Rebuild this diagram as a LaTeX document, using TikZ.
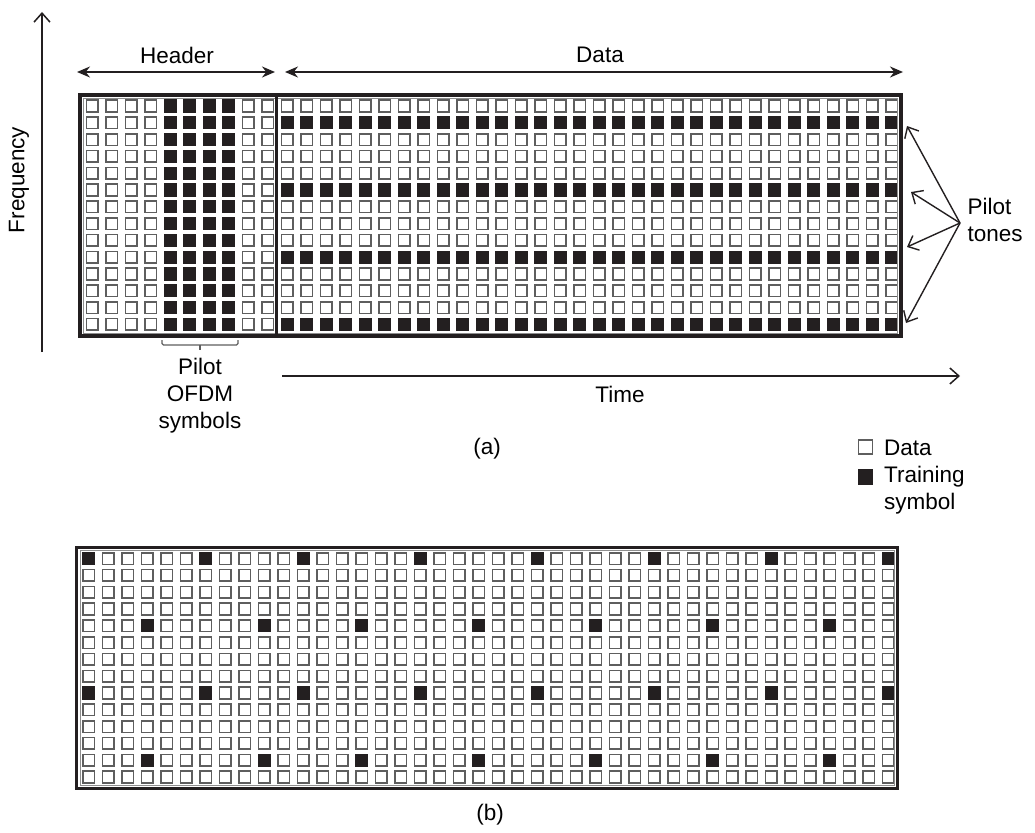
\documentclass[tikz,border=0pt]{standalone}
\usepackage{fontspec}
\setmainfont{Liberation Sans}
\usetikzlibrary{arrows.meta, positioning}
\definecolor{cellgrey}{HTML}{5E5E5E}
\definecolor{cellink}{HTML}{231F20}

\begin{document}
\begin{tikzpicture}[x=1pt, y=-1pt, font=\fontsize{22.5}{27}\selectfont,
    datacell/.style={draw=cellgrey, line width=1.5pt, fill=white},
    traincell/.style={draw=cellink, line width=1.5pt, fill=cellink},
    frame/.style={draw=cellink, line width=3.5pt},
    innerframe/.style={draw=cellgrey!70, line width=0.8pt},
    span/.style={{Stealth[length=13pt,width=11pt]}-{Stealth[length=13pt,width=11pt]}, line width=1.4pt, cellink},
    axis/.style={-{Straight Barb[length=9pt,width=16pt]}, line width=1.5pt, cellink}]
  \useasboundingbox (0,0) rectangle (1035,832);
  % (a) header + data
  \begin{scope}
    \foreach \c in {1,...,42}
      \foreach \r in {1,...,14}
        \draw[datacell] ({86.4+(\c-1)*19.5},{100.2+(\r-1)*16.8}) rectangle ++(11.6,11.6);
    \foreach \c in {5,...,8}
      \foreach \r in {1,...,14}
        \draw[traincell] ({86.4+(\c-1)*19.5},{100.2+(\r-1)*16.8}) rectangle ++(11.6,11.6);
    \foreach \c in {11,...,42}
      \foreach \r in {2,6,10,14}
        \draw[traincell] ({86.4+(\c-1)*19.5},{100.2+(\r-1)*16.8}) rectangle ++(11.6,11.6);
    \draw[innerframe] (83.3,98) rectangle (897.7,333);
    \draw[frame] (80,95) rectangle (901,336);
    \draw[cellink, line width=3pt] (276.5,95) -- (276.5,336);
  \end{scope}
  % spans above the grid
  \node (hdr) at (177,55) {Header};
  \node (dat) at (600,55) {Data};
  \coordinate (hdrL) at (77,72);
  \coordinate (hdrR) at (275,72);
  \coordinate (datL) at (285,72);
  \coordinate (datR) at (903,72);
  \draw[span] (hdrL) -- (hdrR);
  \draw[span] (datL) -- (datR);
  % axes
  \coordinate (f0) at (42,352);
  \coordinate (f1) at (42,12);
  \draw[axis] (f0) -- (f1);
  \node[rotate=90] (freq) at (19,180) {Frequency};
  \coordinate (t0) at (282,376);
  \coordinate (t1) at (960,376);
  \draw[axis] (t0) -- (t1);
  \node (time) at (620,394) {Time};
  % pilot OFDM symbols
  \draw[cellgrey, line width=1.2pt, rounded corners=1.5pt] (162,340) -- (162,345) -- (238,345) -- (238,340);
  \draw[cellgrey, line width=1.2pt] (200,345) -- (200,350);
  \node[align=center] (ofdm) at (200,396) {Pilot\\OFDM\\symbols};
  % pilot tones
  \node[anchor=west, align=left] (tones) at (964,220) {Pilot\\tones};
  \coordinate (hub) at (960,223);
  \coordinate (tone1) at (907,126);
  \coordinate (tone2) at (911,192);
  \coordinate (tone3) at (907,247);
  \coordinate (tone4) at (906,323);
  \foreach \t in {tone1,tone2,tone3,tone4}
    \draw[axis, line width=1.4pt] (hub) -- (\t);
  \node (laba) at (487,449) {(a)};
  % legend
  \draw[datacell] (858.7,440.2) rectangle ++(13.6,13.6);
  \draw[traincell] (858.7,470.2) rectangle ++(13.6,13.6);
  \node[anchor=base west, inner sep=0pt] (legdata) at (884,455) {Data};
  \node[anchor=west, align=left, inner sep=0pt] (legtrain) at (884,490) {Training\\symbol};
  % (b) scattered pilots
  \begin{scope}[shift={(-3.4,452.6)}]
    \foreach \c in {1,...,42}
      \foreach \r in {1,...,14}
        \draw[datacell] ({86.4+(\c-1)*19.5},{100.2+(\r-1)*16.8}) rectangle ++(11.6,11.6);
    \foreach \c in {1,7,12,18,24,30,36,42}
      \foreach \r in {1,9}
        \draw[traincell] ({86.4+(\c-1)*19.5},{100.2+(\r-1)*16.8}) rectangle ++(11.6,11.6);
    \foreach \c in {4,10,15,21,27,33,39}
      \foreach \r in {5,13}
        \draw[traincell] ({86.4+(\c-1)*19.5},{100.2+(\r-1)*16.8}) rectangle ++(11.6,11.6);
    \draw[innerframe] (83.3,98) rectangle (897.7,333);
    \draw[frame] (80,95) rectangle (901,336);
  \end{scope}
  \node (labb) at (490,815) {(b)};
\end{tikzpicture}
\end{document}
